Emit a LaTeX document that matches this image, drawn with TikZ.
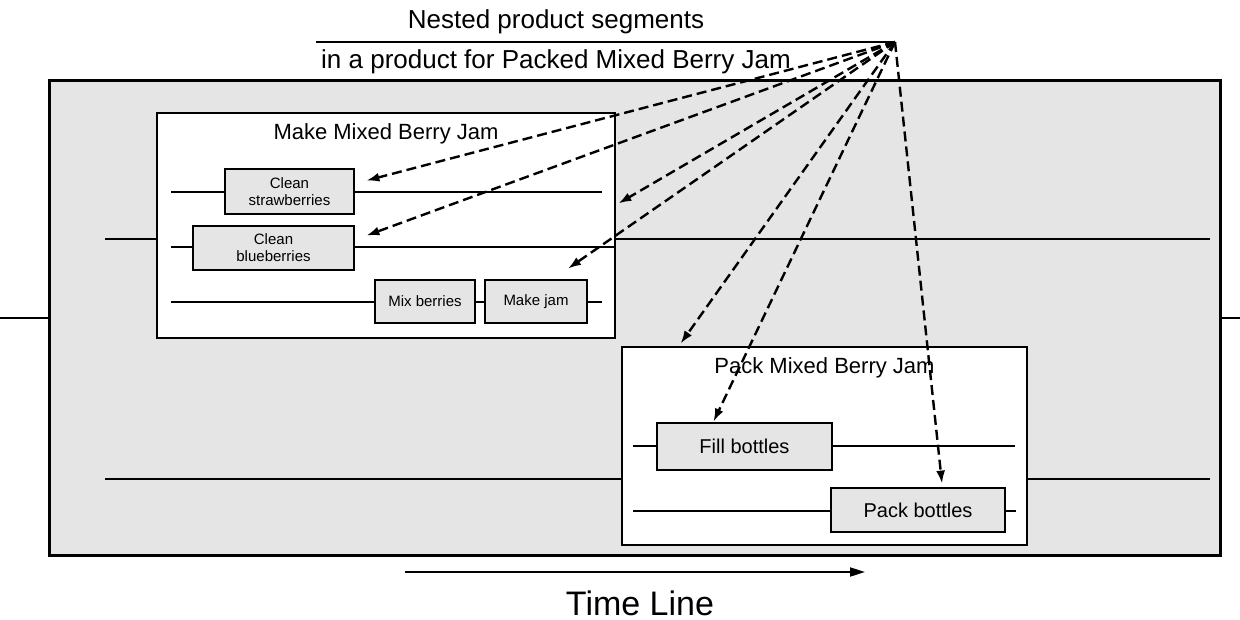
\documentclass[tikz,border=0pt]{standalone}
\usepackage{fontspec}
\setmainfont{Liberation Sans}
\usetikzlibrary{arrows.meta}
\newcommand{\task}[6] {
    \node[task,minimum width=#4,minimum height=#5,font=#6] (#1) at (#2) {#3};
}
\newcommand{\segment}[5] {
    \node[segment,minimum width=#3,minimum height=#4] (#1) at (#2) {};
    \node[font=\fontsize{11}{13}\selectfont] (#1t) at ([yshift=-11pt]#1.north) {#5};
}

\begin{document}
\begin{tikzpicture}[x=0.5pt,y=-0.5pt,
        segment/.style={draw,line width=1.4pt,fill=white,inner sep=0pt},
        task/.style={draw,line width=1.4pt,fill=black!10,inner sep=0pt,align=center},
        tl/.style={line width=1.2pt},
        nest/.style={line width=1.2pt,dash pattern=on 5pt off 2.5pt,-{Latex[length=6.5pt,width=4.5pt]}}]
        \useasboundingbox (0,0) rectangle (1240,620);
        % product
        \node[draw,line width=1.5pt,fill=black!10,minimum width=585.5pt,minimum height=237pt,inner sep=0pt] (prod) at (634.5,318) {};
        \coordinate (pl) at (0,318);
        \coordinate (pr) at (1240,318);
        \draw[tl] (pl) -- (prod.west);
        \draw[tl] (prod.east) -- (pr);
        % segments
        \segment{make}{386,225.5}{229pt}{112.5pt}{Make Mixed Berry Jam}
        \segment{pack}{824.5,446}{202.5pt}{99pt}{Pack Mixed Berry Jam}
        \coordinate (ua) at (105,239);
        \coordinate (ub) at (1210,239);
        \coordinate (la) at (105,479);
        \coordinate (lb) at (1210,479);
        \draw[tl] (ua) -- (ua -| make.west);
        \draw[tl] (make.east |- ua) -- (ub);
        \draw[tl] (la) -- (la -| pack.west);
        \draw[tl] (pack.east |- la) -- (lb);
        % make
        \task{cs}{289.5,191.5}{Clean\\strawberries}{64.5pt}{22.5pt}{\fontsize{7.5}{8.5}\selectfont}
        \task{cb}{273.5,248}{Clean\\blueberries}{80.5pt}{22pt}{\fontsize{7.5}{8.5}\selectfont}
        \task{mix}{425,301.5}{Mix berries}{50pt}{21.5pt}{\fontsize{7.5}{8.5}\selectfont}
        \task{jam}{536,301.5}{Make jam}{51pt}{21.5pt}{\fontsize{7.5}{8.5}\selectfont}
        \coordinate (a1) at (171,192);
        \coordinate (b1) at (602,192);
        \coordinate (a2) at (171,247);
        \coordinate (a3) at (171,302);
        \coordinate (b3) at (602,302);
        \draw[tl] (a1) -- (a1 -| cs.west);
        \draw[tl] (cs.east |- a1) -- (b1);
        \draw[tl] (a2) -- (a2 -| cb.west);
        \draw[tl] (cb.east |- a2) -- (a2 -| make.east);
        \draw[tl] (a3) -- (a3 -| mix.west);
        \draw[tl] (mix.east |- a3) -- (a3 -| jam.west);
        \draw[tl] (jam.east |- a3) -- (b3);
        % pack
        \task{fillb}{744.5,446.5}{Fill bottles}{87.5pt}{23.5pt}{\fontsize{10}{12}\selectfont}
        \task{packb}{918,510}{Pack bottles}{87pt}{22pt}{\fontsize{10}{12}\selectfont}
        \coordinate (a4) at (633,446);
        \coordinate (b4) at (1015,446);
        \coordinate (a5) at (633,511);
        \coordinate (b5) at (1016,511);
        \draw[tl] (a4) -- (a4 -| fillb.west);
        \draw[tl] (fillb.east |- a4) -- (b4);
        \draw[tl] (a5) -- (a5 -| packb.west);
        \draw[tl] (packb.east |- a5) -- (b5);
        % title
        \coordinate (apex) at (895,42);
        \coordinate (ul) at (316,42);
        \draw[line width=0.8pt] (ul) -- (apex);
        \node[font=\fontsize{13}{15}\selectfont] (title1) at (556,22) {Nested product segments};
        \node[font=\fontsize{13}{15}\selectfont] (title2) at (556,62) {in a product for Packed Mixed Berry Jam};
        % nested segments
        \draw[nest] (apex) -- ([shift={(11,13)}]cs.north east);
        \draw[nest] (apex) -- ([shift={(11,11)}]cb.north east);
        \draw[nest] (apex) -- ([shift={(2,-22)}]make.east);
        \draw[nest] (apex) -- ([shift={(32,-10)}]jam.north);
        \draw[nest] (apex) -- ([shift={(60,-2)}]pack.north west);
        \draw[nest] (apex) -- ([shift={(-31,0)}]fillb.north);
        \draw[nest] (apex) -- ([shift={(24,-3)}]packb.north);
        % time
        \coordinate (ts) at (405,572);
        \coordinate (te) at (865,572);
        \draw[line width=1pt,-{Triangle[length=7.5pt,width=4.5pt]}] (ts) -- (te);
        \node[font=\fontsize{17}{20}\selectfont] (tlabel) at (640,603) {Time Line};
\end{tikzpicture}
\end{document}
